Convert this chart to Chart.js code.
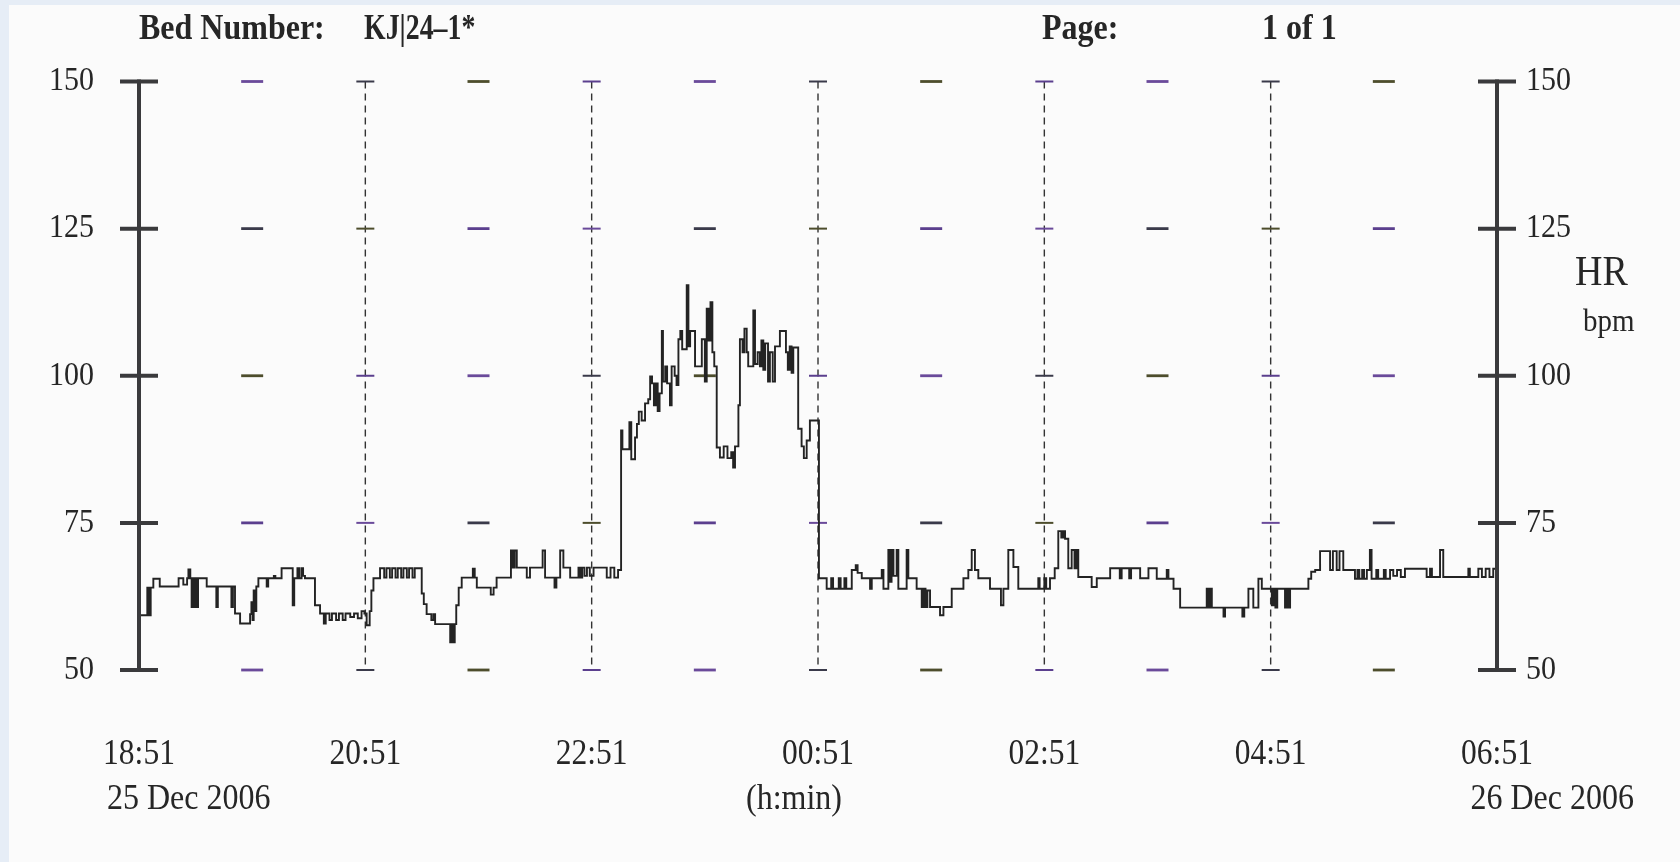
<!DOCTYPE html>
<html>
<head>
<meta charset="utf-8">
<title>HR trend</title>
<script src="https://cdn.jsdelivr.net/npm/chart.js@4.4.1/dist/chart.umd.min.js"></script>
<style>
  html, body { margin: 0; padding: 0; background: #e8eef6; }
  #wrap { width: 1680px; height: 862px; position: relative; }
</style>
</head>
<body>
<div id="wrap"><canvas id="hrChart"></canvas></div>
<script>
// x axis: minutes since 18:51 on 25 Dec 2006, one label every 2 hours
const timeLabels = ['18:51', '20:51', '22:51', '00:51', '02:51', '04:51', '06:51'];
const hrTicks = [50, 75, 100, 125, 150];

// heart rate trend (value holds until the next time)
const minutes = [
  0, 4.4, 5.3, 6.2, 7.6, 11, 21, 23.5, 25.5, 26.2, 27.2, 27.9, 28.6, 29.2, 29.9, 30.6, 31.3, 35.9,
  41, 41.8, 49, 49.8, 50.9, 53.6, 58.9, 59.6, 60.2, 60.8, 61.5, 62.2, 63.3, 67.7, 68.5, 71.5, 72.3,
  75.6, 81.5, 82.3, 84, 85, 86.2, 87, 88, 93.3, 96, 98, 99, 101, 102.3, 104.5, 106, 108, 109.5,
  112, 114, 116, 118, 119.5, 120.7, 122.3, 123.2, 124.3, 127.8, 130, 131.2, 133, 134.2, 136, 137.2,
  139, 140.2, 142, 143.2, 145, 146.2, 149.9, 151, 152.5, 155, 156.1, 157, 165, 165.8, 166.6, 167.4,
  168.2, 169.5, 171.1, 177, 178, 179.1, 186.5, 188, 189.6, 197.2, 198.2, 199.2, 200.3, 205.6, 207.3,
  214, 215.3, 220.3, 221.3, 223.3, 225, 228.6, 233, 234, 235, 236.2, 237.5, 239, 241, 248, 250, 252,
  254, 255.6, 256.3, 260, 261, 263, 264, 265, 266.5, 268.3, 270, 271, 272, 273, 274, 275, 276,
  277.2, 277.8, 279, 280, 281.5, 282.4, 284, 285, 286, 287, 288, 290.4, 291.3, 292.2, 294.8, 298.4,
  300, 301, 302, 303, 304, 305, 306.3, 308, 310, 312, 314, 315, 316, 317.8, 318.6, 320, 321, 322.2,
  323, 325.7, 326.6, 328, 329.2, 330, 331, 332, 333.5, 334.5, 336, 337.2, 339.8, 343, 344, 345, 346,
  346.9, 349.5, 351.3, 352.5, 354, 355.7, 360.5, 364.6, 367, 368, 371, 372, 374, 375, 377.9, 380,
  381, 383.2, 387.6, 388.5, 393.8, 394.7, 397.3, 398.2, 399, 400, 401.7, 402.6, 407, 407.9, 412.3,
  415, 416, 417, 418, 419.4, 424.7, 426.5, 430.9, 437.1, 439.7, 441.5, 443.2, 445, 451.2, 457, 458.3,
  460.9, 463.6, 466.2, 476.8, 477.5, 480, 481, 483, 485.5, 487.4, 489, 490, 491, 492.7, 494.5, 496,
  497, 498, 505.1, 507.8, 514.9, 520, 521, 525, 526, 530.8, 535.2, 539.6, 544.9, 545.8, 548.5, 552,
  566.1, 567, 568, 568.8, 575, 575.8, 585, 586, 588.2, 590.8, 593.5, 595.3, 600.6, 601.5, 602.5,
  603.5, 607.6, 608.5, 609.3, 610.3, 620, 621.5, 623.6, 626.2, 631.5, 633, 635, 636.5, 638.5, 644.7,
  646, 647, 648.5, 649.5, 651, 652.6, 653.5, 656, 657, 660, 661, 663.3, 665, 667, 669, 671.2, 682.7,
  684.5, 685.5, 689.8, 691.5, 704.8, 705.6, 710.1, 712, 714, 716, 718, 720
];
const hr = [
  59.3, 64, 59.3, 64, 65.5, 64.2, 65.6, 64.5, 65.6, 67.1, 65.6, 60.7, 65.6, 60.7, 65.6, 60.7, 65.6, 64.2,
  60.7, 64.2, 60.7, 64.2, 59.6, 57.9, 59.5, 61.5, 58.5, 63.5, 60, 64.2, 65.6, 64.2, 65.6, 66, 65.6,
  67.3, 61, 65.6, 67.3, 65.6, 67.3, 66, 65.6, 61, 59.6, 57.9, 59.6, 58.5, 59.6, 58.5, 59.6, 58.5, 59.6,
  59, 59.6, 58.8, 60, 59.6, 57.6, 60, 63.5, 65.6, 67.3, 65.7, 67.3, 65.7, 67.3, 65.7, 67.3,
  65.7, 67.3, 65.7, 67.3, 65.7, 67.3, 63, 61.2, 59.5, 58.5, 59.5, 57.8, 54.7, 57.8, 54.7, 57.8,
  61, 64, 65.7, 67.2, 65.7, 64, 62.8, 64, 65.7, 70.3, 67.4, 70.3, 67.4, 65.7, 67.4,
  70.3, 65.7, 64, 65.7, 70.3, 67.4, 65.7, 67.4, 65.7, 67.4, 66, 67.4, 66, 67.4, 65.7, 67.4, 65.7,
  67, 90.7, 87.5, 92.1, 85.8, 89.5, 91.8, 93.9, 92.4, 95.3, 96, 99.9, 98.7, 95, 98.7, 94, 97,
  107.6, 99, 101.6, 98.7, 95, 101.6, 100, 98.4, 106.2, 107.6, 104.5, 115.4, 105, 107.6, 101.6, 106.2,
  99, 111.4, 106, 112.5, 104, 101.6, 87.8, 86.1, 88, 86, 87, 84.4, 88, 95, 106.2, 104, 108, 104,
  101.6, 111.1, 102, 104, 101.6, 106, 101, 105.5, 99, 104, 99, 105, 107.6, 104, 101, 105, 100.5,
  104.8, 91, 88, 86, 89, 92.4, 65.6, 63.8, 65.6, 63.8, 65.6, 63.8, 65.6, 63.8, 67, 67.8,
  66.5, 65.6, 63.8, 65.6, 67, 63.8, 70.4, 65, 70.4, 66, 70.4, 63.8, 70.4, 65.6, 63.8,
  60.7, 63.8, 60.7, 63.5, 60.7, 59.3, 60.7, 63.8, 65.6, 67, 70.4, 67, 65.6, 63.8, 61, 63.8,
  70.4, 67.5, 63.8, 65.6, 63.8, 65.6, 63.8, 65.6, 67.3, 73.6, 72.5, 73.6, 72.3, 67.3, 70.4, 67.3,
  70.4, 65.8, 64.1, 65.6, 67.3, 65.6, 67.3, 65.6, 67.3, 65.6, 67.3, 65.5, 67, 65.5, 63.8, 60.6,
  63.8, 60.6, 63.8, 60.6, 59.1, 60.6, 59.1, 60.6, 63.8, 60.6, 65.5, 63.8, 61, 63.8, 60.6,
  63.8, 60.6, 63.8, 60.6, 63.8, 65.5, 66.7, 67, 70.2, 67, 70.2, 67, 70.2, 67, 65.5,
  67, 65.5, 67, 65.5, 67, 70.4, 65.5, 67, 65.5, 67, 65.5, 67, 66, 67, 65.8, 67.2, 65.8,
  67.2, 65.8, 70.4, 65.8, 67.2, 65.8, 67.2, 65.8, 67.2, 65.8, 67.2, 66.5
];

const serif = '"Liberation Serif", "DejaVu Serif", serif';
const ink = '#3a3a3c';
const dashColors = ['#5b3f8e', '#4d4d2c', '#3a3a4a', '#6a4a9a'];

// scanned print looks a bit taller than the font, so stretch text vertically
function label(ctx, str, x, y, font, align, sx) {
  ctx.save();
  ctx.translate(x, y);
  ctx.scale(sx || 1, 1.12);
  ctx.font = font;
  ctx.fillStyle = '#262626';
  ctx.textAlign = align || 'left';
  ctx.textBaseline = 'middle';
  ctx.fillText(str, 0, 0);
  ctx.restore();
}

function hLine(ctx, x1, x2, y, width, color) {
  ctx.beginPath();
  ctx.lineWidth = width;
  ctx.strokeStyle = color;
  ctx.moveTo(x1, y);
  ctx.lineTo(x2, y);
  ctx.stroke();
}

const reportPlugin = {
  id: 'report',
  beforeDraw(chart) {
    const ctx = chart.ctx;
    ctx.save();
    ctx.fillStyle = '#e6edf6';
    ctx.fillRect(0, 0, chart.width, chart.height);
    ctx.fillStyle = '#fbfbfb';
    ctx.fillRect(9, 5, chart.width - 9, chart.height - 5);
    ctx.restore();
  },
  beforeDatasetsDraw(chart) {
    const ctx = chart.ctx;
    const xs = chart.scales.x, ys = chart.scales.y;
    const top = ys.getPixelForValue(150), bottom = ys.getPixelForValue(50);
    ctx.save();
    for (let h = 1; h < 12; h++) {
      const x = xs.getPixelForValue(h * 60);
      if (h % 2 === 0) {
        ctx.beginPath();
        ctx.setLineDash([7, 5]);
        ctx.lineWidth = 1.4;
        ctx.strokeStyle = '#333';
        ctx.moveTo(x, top);
        ctx.lineTo(x, bottom);
        ctx.stroke();
        ctx.setLineDash([]);
        hrTicks.forEach((v, j) => hLine(ctx, x - 9, x + 9, ys.getPixelForValue(v), 2, dashColors[(h + j) % 4]));
      } else {
        hrTicks.forEach((v, j) => hLine(ctx, x - 11, x + 11, ys.getPixelForValue(v), 2.8, dashColors[(h * 3 + j) % 4]));
      }
    }
    ctx.restore();
  },
  afterDatasetsDraw(chart) {
    const ctx = chart.ctx;
    const xs = chart.scales.x, ys = chart.scales.y;
    const top = ys.getPixelForValue(150), bottom = ys.getPixelForValue(50);
    ctx.save();
    [0, 720].forEach(m => {
      const x = xs.getPixelForValue(m);
      ctx.beginPath();
      ctx.lineWidth = 4;
      ctx.strokeStyle = ink;
      ctx.moveTo(x, top - 2);
      ctx.lineTo(x, bottom + 2);
      ctx.stroke();
      hrTicks.forEach(v => hLine(ctx, x - 19, x + 19, ys.getPixelForValue(v), 4, ink));
    });
    const tickFont = '30px ' + serif;
    hrTicks.forEach(v => {
      const y = ys.getPixelForValue(v);
      label(ctx, String(v), 94, y, tickFont, 'right');
      label(ctx, String(v), 1526, y, tickFont, 'left');
    });
    const timeFont = '31.5px ' + serif;
    timeLabels.forEach((t, i) => {
      label(ctx, t, xs.getPixelForValue(i * 120), 755, timeFont, 'center');
    });
    const dateFont = '32px ' + serif;
    label(ctx, '25 Dec 2006', 107, 800, dateFont, 'left');
    label(ctx, '(h:min)', xs.getPixelForValue(360) - 24, 800, dateFont, 'center');
    label(ctx, '26 Dec 2006', 1634, 800, dateFont, 'right');
    label(ctx, 'HR', 1575, 274, '38px ' + serif, 'left');
    label(ctx, 'bpm', 1583, 322, '29px ' + serif, 'left');
    const headFont = 'bold 32px ' + serif;
    label(ctx, 'Bed Number:', 139, 30, headFont, 'left');
    label(ctx, 'KJ|24\u20131*', 364, 30, headFont, 'left', 0.87);
    label(ctx, 'Page:', 1042, 30, headFont, 'left');
    label(ctx, '1 of 1', 1262, 30, headFont, 'left');
    ctx.restore();
  }
};

new Chart(document.getElementById('hrChart'), {
  type: 'line',
  data: {
    datasets: [{
      label: 'HR',
      data: minutes.map((m, i) => ({ x: m, y: hr[i] })),
      stepped: true,
      borderColor: '#232323',
      borderWidth: 1.9,
      pointRadius: 0,
      fill: false
    }]
  },
  options: {
    responsive: true,
    maintainAspectRatio: false,
    animation: false,
    layout: { padding: { left: 139, right: 183, top: 81.5, bottom: 192 } },
    scales: {
      x: { type: 'linear', min: 0, max: 720, display: false },
      y: { min: 50, max: 150, display: false }
    },
    plugins: {
      legend: { display: false },
      tooltip: { enabled: false }
    }
  },
  plugins: [reportPlugin]
});
</script>
</body>
</html>
